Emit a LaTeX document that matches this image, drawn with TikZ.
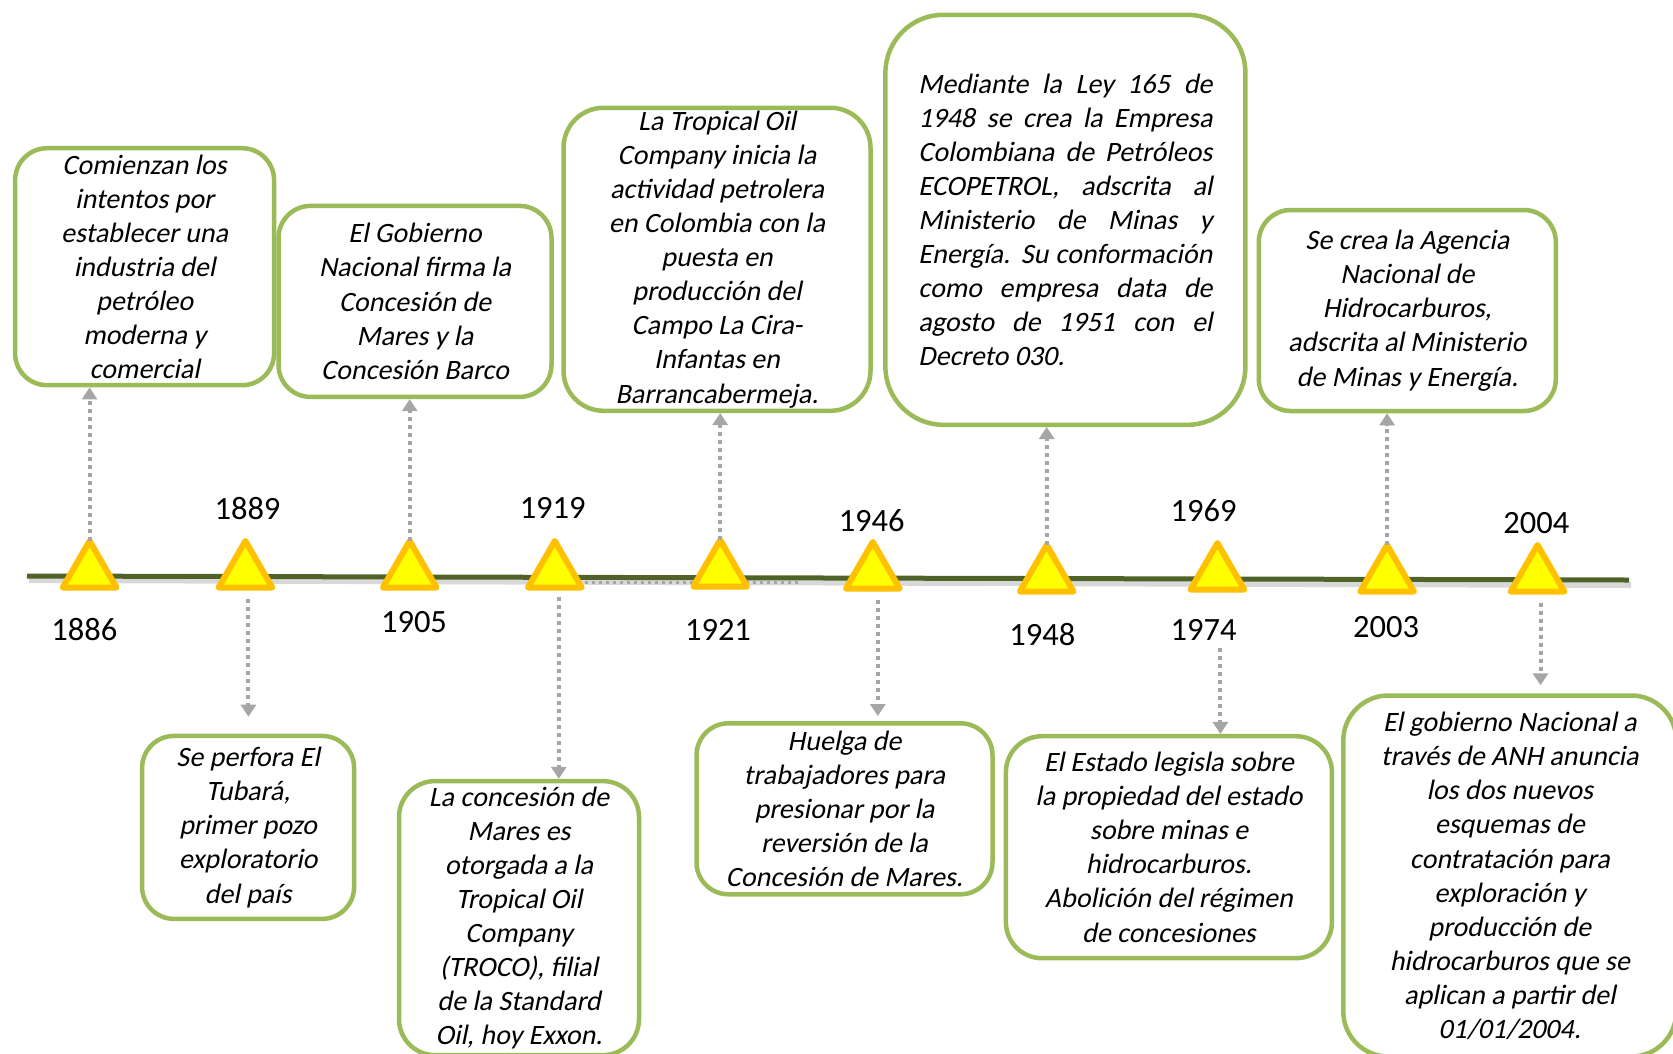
\documentclass[tikz,border=0pt]{standalone}
\usepackage{fontspec}
\setmainfont{Carlito}[AutoFakeSlant=0.2]
\usetikzlibrary{arrows.meta,calc,positioning,shapes.geometric}
\definecolor{boxgreen}{HTML}{9BBB59}
\definecolor{axisgreen}{HTML}{4F6228}
\definecolor{markyellow}{HTML}{FFFF00}
\definecolor{markorange}{HTML}{FFC000}
\definecolor{linkgray}{HTML}{A6A6A6}
\newcommand{\evfont}{\fontsize{28}{34.1}\selectfont\itshape}
\newcommand{\yrfont}{\fontsize{32.5}{39}\selectfont}
\newcommand{\jline}[1]{\makebox[294pt][s]{#1}}
\tikzset{%
	event/.style  = {draw=boxgreen, line width=4.5pt, rounded corners=32pt, align=center, font=\evfont, inner sep=0pt}, % event box
	marker/.style = {draw=markorange, fill=markyellow, line width=6pt, line join=round, regular polygon, regular polygon sides=3, minimum size=62pt, inner sep=0pt, outer sep=0pt},
	year/.style   = {font=\yrfont, inner sep=0pt},
	link/.style   = {draw=linkgray, line width=4pt, dash pattern=on 4pt off 4pt, -{Triangle[width=15pt,length=12pt]}},
	axis/.style   = {draw=axisgreen, line width=5pt},
}

\begin{document}
\begin{tikzpicture}[x=1pt,y=-1pt]
	\useasboundingbox (0,0) rectangle (1673,1053);
	% timeline
	\draw[gray!60, line width=6pt, opacity=.5] (29,580) -- (1631,585);
	\draw[axis] (27,576) -- (1629,580);
	\draw[draw=linkgray, line width=3pt, dash pattern=on 3pt off 4pt] (585,582) -- (800,582);
	
	% markers
	\node[marker] (m1886) at (89.6,572) {};
	\node[marker] (m1889) at (245.4,572) {};
	\node[marker] (m1905) at (409.7,572) {};
	\node[marker] (m1919) at (554.8,572) {};
	\node[marker] (m1921) at (720.2,571) {};
	\node[marker] (m1946) at (872.8,573) {};
	\node[marker] (m1948) at (1046.7,576) {};
	\node[marker] (m1969) at (1217.4,574) {};
	\node[marker] (m2003) at (1387.1,576) {};
	\node[marker] (m2004) at (1537.5,576) {};
	
	\node[year] (y1886) at (84.3,629.5) {1886};
	\node[year] (y1889) at (247.5,509) {1889};
	\node[year] (y1905) at (414,622) {1905};
	\node[year] (y1919) at (552.7,508) {1919};
	\node[year] (y1921) at (718,629.5) {1921};
	\node[year] (y1946) at (871.7,520.7) {1946};
	\node[year] (y1948) at (1042.4,634.8) {1948};
	\node[year] (y1969) at (1203.5,511) {1969};
	\node[year] (y1974) at (1203.5,629.5) {1974};
	\node[year] (y2003) at (1386,627.4) {2003};
	\node[year] (y2004) at (1536.4,522.8) {2004};
	
	% events above
	\node[event, minimum width=259pt, minimum height=237pt] (e1886) at (144.6,266.7) {Comienzan los\\intentos por\\establecer una\\industria del\\petróleo\\moderna y\\comercial};
	\node[event, minimum width=273pt, minimum height=191pt] (e1905) at (415,301.4) {El Gobierno\\Nacional firma la\\Concesión de\\Mares y la\\Concesión Barco};
	\node[event, rounded corners=40pt, minimum width=307pt, minimum height=303pt] (e1921) at (717,259.3) {La Tropical Oil\\Company inicia la\\actividad petrolera\\en Colombia con la\\puesta en\\producción del\\Campo La Cira-\\Infantas en\\Barrancabermeja.};
	\node[event, align=left, rounded corners=58pt, minimum width=360pt, minimum height=410pt] (e1948) at (1065.4,219.8) {\jline{Mediante la Ley 165 de}\\\jline{1948 se crea la Empresa}\\\jline{Colombiana de Petróleos}\\\jline{ECOPETROL, adscrita al}\\\jline{Ministerio de Minas y}\\\jline{Energía. Su conformación}\\\jline{como empresa data de}\\\jline{agosto de 1951 con el}\\Decreto 030.};
	\node[event, minimum width=297pt, minimum height=201pt] (e2003) at (1407.3,310.5) {Se crea la Agencia\\Nacional de\\Hidrocarburos,\\adscrita al Ministerio\\de Minas y Energía.};
	
	% events below
	\node[event, minimum width=212pt, minimum height=183pt] (e1889) at (248.1,827.4) {Se perfora El\\Tubará,\\primer pozo\\exploratorio\\del país};
	\node[event, rounded corners=36pt, minimum width=240pt, minimum height=274pt] (e1919) at (519,918.1) {La concesión de\\Mares es\\otorgada a la\\Tropical Oil\\Company\\(TROCO), filial\\de la Standard\\Oil, hoy Exxon.};
	\node[event, minimum width=296pt, minimum height=171pt] (e1946) at (844.5,808.8) {Huelga de\\trabajadores para\\presionar por la\\reversión de la\\Concesión de Mares.};
	\node[event, rounded corners=36pt, minimum width=326pt, minimum height=222pt] (e1974) at (1168.9,847.2) {El Estado legisla sobre\\la propiedad del estado\\sobre minas e\\hidrocarburos.\\Abolición del régimen\\de concesiones};
	\node[event, rounded corners=45pt, minimum width=333pt, minimum height=361pt] (e2004) at (1509.8,876) {El gobierno Nacional a\\través de ANH anuncia\\los dos nuevos\\esquemas de\\contratación para\\exploración y\\producción de\\hidrocarburos que se\\aplican a partir del\\01/01/2004.};
	
	% links
	\draw[link] (m1886.north) -- (m1886.north |- e1886.south);
	\draw[link] (m1905.north) -- (m1905.north |- e1905.south);
	\draw[link] (m1921.north) -- (m1921.north |- e1921.south);
	\draw[link] (m1948.north) -- (m1948.north |- e1948.south);
	\draw[link] (m2003.north) -- (m2003.north |- e2003.south);
	\draw[link, shorten <=11pt, shorten >=17pt] ([xshift=3pt]m1889.south) -- ([xshift=3pt]m1889.south |- e1889.north);
	\draw[link, shorten <=9pt] ([xshift=4pt]m1919.south) -- ([xshift=4pt]m1919.south |- e1919.north);
	\draw[link, shorten <=11pt, shorten >=5pt] ([xshift=5pt]m1946.south) -- ([xshift=5pt]m1946.south |- e1946.north);
	\draw[link, shorten <=8pt] ([xshift=3pt]m1969.center |- y1974.south) -- ([xshift=3pt]m1969.center |- e1974.north);
	\draw[link, shorten <=11pt, shorten >=8pt] ([xshift=3pt]m2004.south) -- ([xshift=3pt]m2004.south |- e2004.north);
\end{tikzpicture}
\end{document}
